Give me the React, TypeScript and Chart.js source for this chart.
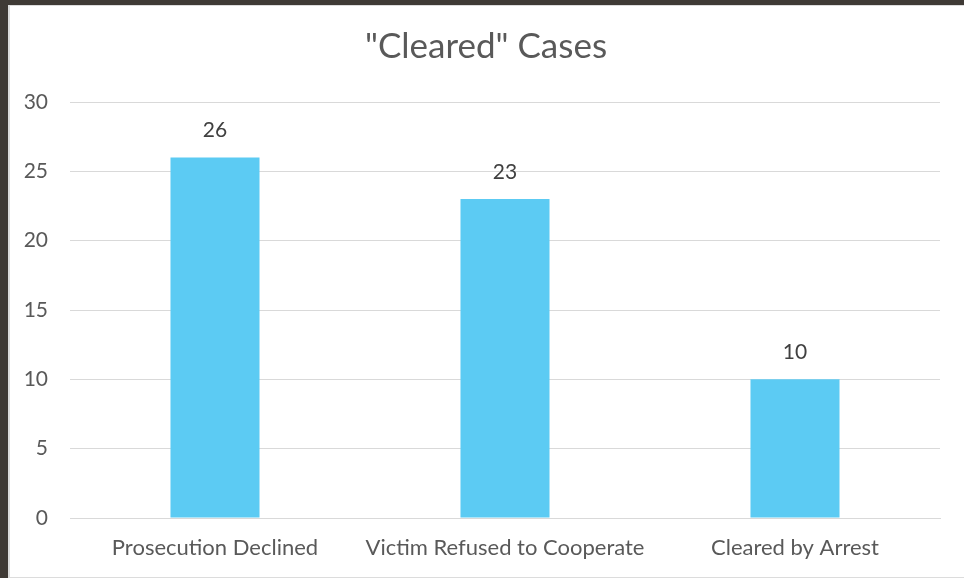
import React, { useEffect, useRef } from 'react';
import { Chart, registerables } from 'chart.js';

Chart.register(...registerables);

const categories = ['Prosecution Declined', 'Victim Refused to Cooperate', 'Cleared by Arrest'];
const caseCounts = [26, 23, 10];
const yMin = 0;
const yMax = 30;
const yStep = 5;
const chartTitle = '"Cleared" Cases';

const FONT = 'Lato, "Open Sans", sans-serif';
const BAR_COLOR = '#5ccbf3';
const TEXT_COLOR = '#595959';
const GRID_COLOR = '#d9d9d9';

const barLabelPlugin = {
  id: 'barLabels',
  afterDatasetsDraw(chart: any) {
    const ctx = chart.ctx;
    const meta = chart.getDatasetMeta(0);
    ctx.save();
    ctx.font = `21px ${FONT}`;
    ctx.fillStyle = '#404040';
    ctx.textAlign = 'center';
    ctx.textBaseline = 'middle';
    meta.data.forEach((bar: any, i: number) => {
      ctx.fillText(String(caseCounts[i]), bar.x, bar.y - 27);
    });
    ctx.restore();
  },
};

export default function App() {
  const canvasRef = useRef<HTMLCanvasElement | null>(null);

  useEffect(() => {
    document.body.style.margin = '0';
    const canvas = canvasRef.current;
    if (!canvas) return;
    const chart = new Chart(canvas, {
      type: 'bar',
      data: {
        labels: categories,
        datasets: [
          {
            data: caseCounts,
            backgroundColor: BAR_COLOR,
            borderWidth: 0,
            categoryPercentage: 1,
            barPercentage: 0.307,
          },
        ],
      },
      options: {
        responsive: false,
        animation: false,
        layout: { padding: 0 },
        plugins: {
          legend: { display: false },
          tooltip: { enabled: false },
          title: {
            display: true,
            text: chartTitle,
            color: TEXT_COLOR,
            font: { family: FONT, size: 35, weight: 'normal', lineHeight: 1.2 },
            padding: { top: 21, bottom: 34 },
          },
        },
        scales: {
          y: {
            min: yMin,
            max: yMax,
            ticks: {
              stepSize: yStep,
              color: TEXT_COLOR,
              font: { family: FONT, size: 21 },
              padding: 22,
            },
            grid: { color: GRID_COLOR, drawTicks: false, lineWidth: 1 },
            border: { display: false },
            afterFit: (s: any) => {
              s.width = 62;
            },
          },
          yRightSpace: {
            position: 'right',
            display: true,
            min: yMin,
            max: yMax,
            ticks: { display: false },
            grid: { display: false, drawTicks: false },
            border: { display: false },
            afterFit: (s: any) => {
              s.width = 24;
            },
          },
          x: {
            ticks: {
              color: TEXT_COLOR,
              font: { family: FONT, size: 22 },
              padding: 17,
              maxRotation: 0,
              autoSkip: false,
            },
            grid: { display: false, drawTicks: false },
            border: { display: true, color: GRID_COLOR, width: 1 },
            afterFit: (s: any) => {
              s.height = 60;
            },
          },
        },
      },
      plugins: [barLabelPlugin],
    });
    return () => chart.destroy();
  }, []);

  return (
    <div
      style={{
        position: 'fixed',
        left: 0,
        top: 0,
        width: 964,
        height: 580,
        background: '#3f3a35',
        overflow: 'hidden',
      }}
    >
      <div
        style={{
          position: 'absolute',
          left: 8,
          top: 5,
          width: 956,
          height: 573,
          background: '#ffffff',
          boxShadow: 'inset 2px 1px 0 #dcdcdc, inset 0 -1px 0 #dcdcdc',
        }}
      >
        <canvas ref={canvasRef} width={956} height={573} style={{ display: 'block' }} />
      </div>
      <div style={{ position: 'absolute', left: 0, top: 578, width: 964, height: 2, background: '#ffffff' }} />
    </div>
  );
}
